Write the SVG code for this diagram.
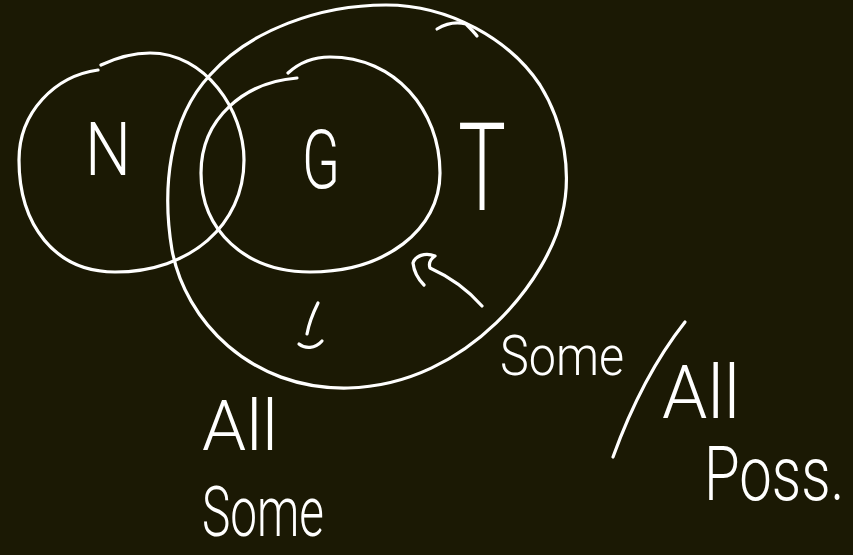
<svg xmlns="http://www.w3.org/2000/svg" width="853" height="555" viewBox="0 0 853 555">
  <style>
    .ink { fill: none; stroke: #ffffff; stroke-width: 3.2; stroke-linecap: round; stroke-linejoin: round; }
    .hand { fill: #ffffff; font-family: Roboto, Lato, "Open Sans", "DejaVu Sans", sans-serif; font-weight: 300; }
  </style>
  <rect x="0" y="0" width="853" height="555" fill="#1b1904"/>

  <g id="node-T">
    <path class="ink" d="M386,5 C450,5 510,40 540,85 C565,125 572,175 562,215 C550,275 470,385 348,388 C250,390 185,320 172,250 C162,190 168,120 210,75 C250,30 320,5 386,5 Z"/>
    <path class="ink" d="M437,29 C447,23 458,22 466,24 C470,28 474,32 477,36"/>
    <text class="hand" x="458" y="210" font-size="122" textLength="48" lengthAdjust="spacingAndGlyphs">T</text>
  </g>

  <g id="node-N">
    <path class="ink" d="M101,65 C118,57 133,53 150,53 C205,53 244,110 244,160 C244,225 190,272 115,272 C55,272 19,225 19,160 C19,112 55,76 98,70"/>
    <text class="hand" x="85" y="175" font-size="74" textLength="46" lengthAdjust="spacingAndGlyphs">N</text>
  </g>

  <g id="node-G">
    <path class="ink" d="M288,73 C300,62 315,57 330,57 C395,57 440,110 440,173 C440,230 385,272 310,272 C245,272 201,230 201,173 C201,118 245,82 297,78"/>
    <text class="hand" x="302" y="188" font-size="82" textLength="38" lengthAdjust="spacingAndGlyphs">G</text>
  </g>

  <g id="connectors">
    <path class="ink" d="M482,306 C468,290 450,277 430,268 C428,262 432,258 435,256 C425,252 415,256 413,263 C414,272 419,280 424,285"/>
  </g>

  <g id="annotations">
    <path class="ink" d="M318,303 C313,313 309,323 307,334"/>
    <path class="ink" d="M299,344 C305,349 315,349 322,341"/>
    <path class="ink" d="M685,322 C655,360 630,410 613,457"/>
    <text class="hand" x="500" y="375" font-size="56" textLength="124" lengthAdjust="spacingAndGlyphs">Some</text>
    <text class="hand" x="662" y="418" font-size="74" textLength="78" lengthAdjust="spacingAndGlyphs">All</text>
    <text class="hand" transform="translate(704,500) scale(1,1.3)" x="0" y="0" font-size="58">Poss.</text>
    <text class="hand" x="202" y="450" font-size="70" textLength="76" lengthAdjust="spacingAndGlyphs">All</text>
    <text class="hand" x="202" y="536" font-size="70" textLength="122" lengthAdjust="spacingAndGlyphs">Some</text>
  </g>
</svg>
